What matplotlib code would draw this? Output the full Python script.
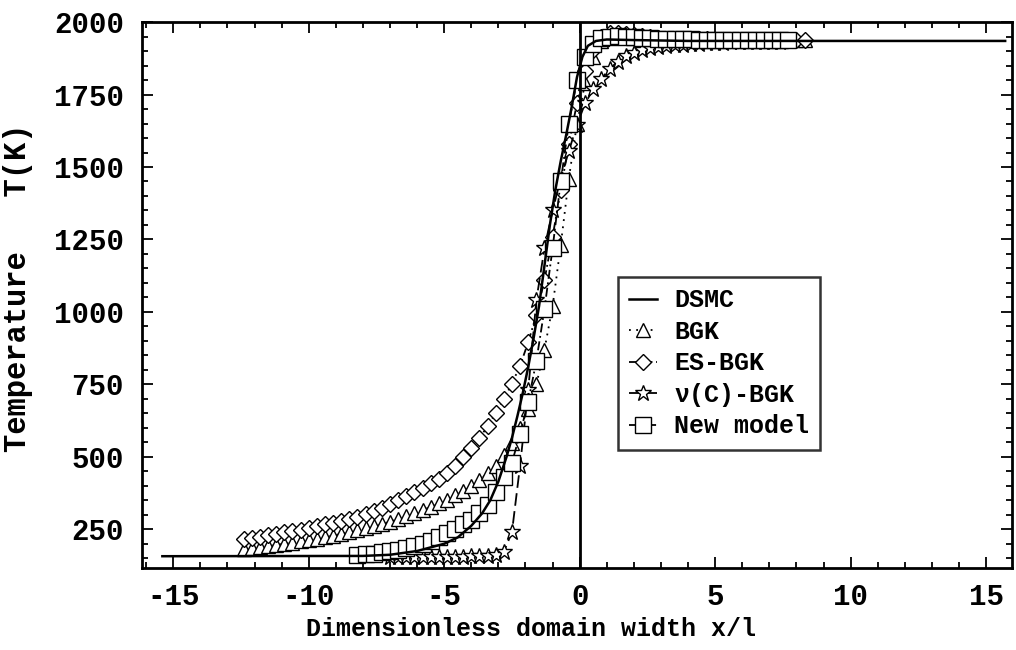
import matplotlib
matplotlib.use("Agg")
import matplotlib.pyplot as plt
from matplotlib.ticker import MultipleLocator

plt.rcParams['font.family'] = ['Liberation Mono', 'DejaVu Sans']
plt.rcParams['font.weight'] = 'bold'
plt.rcParams['axes.labelweight'] = 'bold'
plt.rcParams['axes.unicode_minus'] = False

# DSMC reference profile
x_dsmc = [-15.4, -8.0, -7.0, -6.0, -5.0, -4.5, -4.0, -3.6, -3.3, -3.0, -2.7, -2.5,
          -2.3, -2.1, -1.9, -1.7, -1.5, -1.3, -1.1, -0.9, -0.7, -0.5, -0.3, -0.1,
          0.1, 0.3, 0.6, 1.0, 2.0, 4.0, 15.7]
t_dsmc = [157, 158, 162, 175, 200, 222, 262, 305, 350, 415, 500, 565,
          640, 720, 810, 910, 1020, 1160, 1300, 1420, 1520, 1610, 1705, 1810,
          1880, 1918, 1935, 1940, 1938, 1935, 1935]

# grid shared by BGK and ES-BGK
x_long = [-12.4, -12.1, -11.8, -11.5, -11.2, -10.9, -10.6, -10.3, -10.0, -9.7,
          -9.4, -9.1, -8.8, -8.5, -8.2, -7.9, -7.6, -7.3, -7.0, -6.7,
          -6.4, -6.1, -5.8, -5.5, -5.2, -4.9, -4.6, -4.3, -4.0, -3.7,
          -3.4, -3.1, -2.8, -2.5, -2.2, -1.9, -1.6, -1.3, -1.0, -0.7,
          -0.4, -0.1, 0.2, 0.5, 0.8, 1.1, 1.4, 1.7, 2.0, 2.3,
          2.6, 2.9, 3.2, 3.5, 3.8, 4.1, 4.4, 4.7, 5.0, 5.3,
          5.6, 5.9, 6.2, 6.5, 6.8, 7.1, 7.4, 7.7, 8.0, 8.3]
t_bgk = [182, 185, 189, 192, 196, 200, 204, 209, 213, 218,
         223, 228, 234, 240, 246, 253, 260, 268, 276, 285,
         295, 305, 316, 327, 339, 352, 367, 383, 400, 420,
         443, 470, 505, 548, 600, 665, 750, 870, 1020, 1230,
         1460, 1650, 1790, 1880, 1935, 1955, 1960, 1958, 1955, 1952,
         1949, 1947, 1945, 1943, 1942, 1941, 1941, 1940, 1940, 1940,
         1939, 1939, 1939, 1939, 1938, 1938, 1938, 1938, 1938, 1938]
t_esbgk = [215, 220, 225, 229, 234, 239, 244, 249, 255, 261,
           267, 273, 280, 287, 294, 302, 312, 324, 337, 350,
           364, 378, 393, 408, 425, 445, 470, 498, 530, 565,
           605, 652, 700, 752, 815, 895, 990, 1110, 1260, 1420,
           1580, 1720, 1830, 1905, 1950, 1962, 1963, 1960, 1956, 1952,
           1948, 1945, 1943, 1942, 1941, 1940, 1940, 1940, 1939, 1939,
           1939, 1939, 1938, 1938, 1938, 1938, 1938, 1938, 1938, 1938]

# nu(C)-BGK
x_nuc = [-7.0, -6.7, -6.4, -6.1, -5.8, -5.5, -5.2, -4.9, -4.6, -4.3,
         -4.0, -3.7, -3.4, -3.1, -2.8, -2.5, -2.2, -1.9, -1.6, -1.3,
         -1.0, -0.7, -0.4, -0.1, 0.2, 0.5, 0.8, 1.1, 1.4, 1.7,
         2.0, 2.3, 2.6, 2.9, 3.2, 3.5, 3.8, 4.1, 4.4, 4.7,
         5.0, 5.3, 5.6, 5.9, 6.2, 6.5, 6.8, 7.1, 7.4]
t_nuc = [155, 155, 155, 155, 155, 155, 155, 156, 156, 156,
         157, 157, 158, 160, 172, 240, 470, 730, 1040, 1220,
         1350, 1460, 1555, 1645, 1720, 1768, 1805, 1838, 1864, 1882,
         1895, 1903, 1909, 1913, 1917, 1920, 1922, 1924, 1926, 1927,
         1928, 1929, 1930, 1930, 1931, 1931, 1932, 1932, 1932]

# new model
x_new = [-8.2, -7.9, -7.6, -7.3, -7.0, -6.7, -6.4, -6.1, -5.8, -5.5,
         -5.2, -4.9, -4.6, -4.3, -4.0, -3.7, -3.4, -3.1, -2.8, -2.5,
         -2.2, -1.9, -1.6, -1.3, -1.0, -0.7, -0.4, -0.1, 0.2, 0.5,
         0.8, 1.1, 1.4, 1.7, 2.0, 2.3, 2.6, 2.9, 3.2, 3.5,
         3.8, 4.1, 4.4, 4.7, 5.0, 5.3, 5.6, 5.9, 6.2, 6.5,
         6.8, 7.1, 7.4, 7.7]
t_new = [162, 164, 166, 170, 174, 179, 185, 192, 200, 210,
         222, 236, 252, 268, 282, 305, 335, 380, 430, 480,
         580, 690, 830, 1010, 1220, 1450, 1650, 1800, 1880, 1925,
         1945, 1950, 1951, 1950, 1948, 1946, 1944, 1943, 1942, 1941,
         1940, 1940, 1939, 1939, 1939, 1938, 1938, 1938, 1938, 1938,
         1937, 1937, 1937, 1937]

fig = plt.figure(figsize=(10.16, 6.5), dpi=100)
ax = fig.add_axes([0.1398, 0.126, 0.8562, 0.84])

mk = dict(color='black', markerfacecolor='white', markeredgecolor='black',
          markeredgewidth=1.0, linewidth=1.3)

ax.plot(x_long, t_bgk, linestyle=(0, (1, 3)), marker='^', markersize=10,
        label='BGK', **mk)
ax.plot(x_long, t_esbgk, linestyle=(0, (4, 2, 1, 2)), marker='D', markersize=8.5,
        label='ES-BGK', **mk)
ax.plot(x_nuc, t_nuc, linestyle=(0, (7, 3)), marker='*', markersize=12,
        label='\u03bd(C)-BGK', **mk)
ax.plot(x_new, t_new, linestyle=(0, (5, 2, 1, 2)), marker='s', markersize=11,
        label='New model', **mk)
ax.plot(x_dsmc, t_dsmc, color='black', linewidth=1.8, label='DSMC', zorder=5)

ax.axvline(0, color='black', linewidth=2)

ax.set_xlim(-16.15, 15.95)
ax.set_ylim(116, 2000)
ax.xaxis.set_major_locator(MultipleLocator(5))
ax.xaxis.set_minor_locator(MultipleLocator(1))
ax.yaxis.set_major_locator(MultipleLocator(250))
ax.yaxis.set_minor_locator(MultipleLocator(50))
ax.tick_params(which='both', direction='in', top=True, right=True, width=1.3)
ax.tick_params(which='major', length=8, labelsize=21)
ax.tick_params(which='minor', length=4)
ax.tick_params(axis='x', pad=11)
ax.tick_params(axis='y', pad=13)
for sp in ax.spines.values():
    sp.set_linewidth(2)

ax.set_xlabel('Dimensionless domain width x/l', fontsize=18)
ax.xaxis.set_label_coords(0.447, -0.09)
ax.set_ylabel('Temperature   T(K)', fontsize=22)
ax.yaxis.set_label_coords(-0.125, 0.513)

h, l = ax.get_legend_handles_labels()
order = [4, 0, 1, 2, 3]
leg = ax.legend([h[i] for i in order], [l[i] for i in order],
                loc='upper left', bbox_to_anchor=(0.547, 0.533), borderaxespad=0,
                fontsize=18, frameon=True, fancybox=False, edgecolor='black',
                handlelength=1.1, labelspacing=0.3, borderpad=0.45,
                handletextpad=0.7, numpoints=1)
leg.get_frame().set_linewidth(1.8)

plt.savefig('out.png', dpi=100)
